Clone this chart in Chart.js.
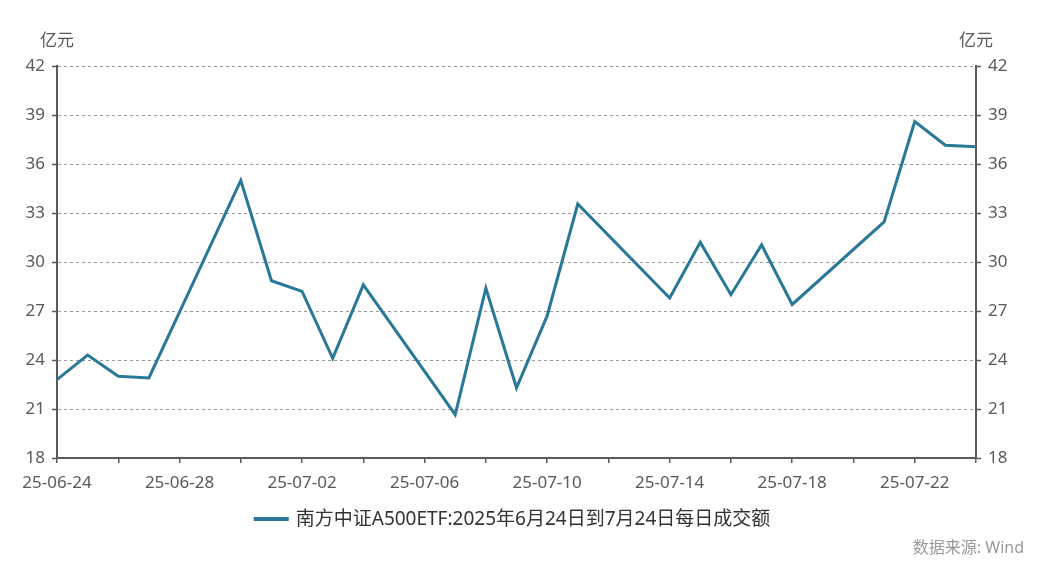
<!DOCTYPE html>
<html>
<head>
<meta charset="utf-8">
<script src="https://cdn.jsdelivr.net/npm/chart.js@4/dist/chart.umd.min.js"></script>
<style>
  html, body { margin: 0; padding: 0; background: #fff; }
  #wrap { width: 1060px; height: 574px; position: relative; }
</style>
</head>
<body>
<div id="wrap"><canvas id="c" width="1060" height="574"></canvas></div>
<script>
// ---- data ----
const dates = ['25-06-24','25-06-25','25-06-26','25-06-27','25-06-30','25-07-01','25-07-02','25-07-03','25-07-04','25-07-07','25-07-08','25-07-09','25-07-10','25-07-11','25-07-14','25-07-15','25-07-16','25-07-17','25-07-18','25-07-21','25-07-22','25-07-23','25-07-24'];
const volumes = [22.8,24.3,23.0,22.9,35.0,28.85,28.2,24.1,28.6,20.65,28.4,22.3,26.7,33.55,27.8,31.2,28.0,31.05,27.4,32.45,38.6,37.15,37.05];
const seriesName = '南方中证A500ETF:2025年6月24日到7月24日每日成交额';
const unitLabel = '亿元';
const sourceLabel = '数据来源: Wind';
const yMin = 18, yMax = 42, yStep = 3;
const xTickStep = 2, xLabelEvery = 4;

// ---- helpers ----
function toUTC(d) { const p = d.split('-'); return Date.UTC(2000 + +p[0], +p[1] - 1, +p[2]); }
const DAY = 86400000;
const t0 = toUTC(dates[0]);
const tEnd = toUTC(dates[dates.length - 1]);
function offsetToLabel(off) {
  const dt = new Date(t0 + off * DAY);
  const yy = String(dt.getUTCFullYear() % 100).padStart(2, '0');
  const mm = String(dt.getUTCMonth() + 1).padStart(2, '0');
  const dd = String(dt.getUTCDate()).padStart(2, '0');
  return yy + '-' + mm + '-' + dd;
}
const points = dates.map((d, i) => ({ x: (toUTC(d) - t0) / DAY, y: volumes[i] }));

const FONT = '"Noto Sans", "Noto Sans CJK SC", sans-serif';
const LINE_COLOR = '#2a7898';
const TICK_COLOR = '#595959';
const AXIS_COLOR = '#5a5a5a';

const overlay = {
  id: 'overlay',
  afterDraw(chart) {
    const ctx = chart.ctx;
    ctx.save();
    // unit labels
    ctx.font = '17px ' + FONT;
    ctx.fillStyle = TICK_COLOR;
    ctx.textBaseline = 'middle';
    ctx.textAlign = 'left';
    ctx.fillText(unitLabel, 40, 41);
    ctx.textAlign = 'right';
    ctx.fillText(unitLabel, 993, 41);
    // legend
    ctx.font = '19px ' + FONT;
    const tw = ctx.measureText(seriesName).width;
    const sw = 35, gap = 7;
    const total = sw + gap + tw;
    const cx = 512;
    const lx = cx - total / 2;
    const ly = 519;
    ctx.strokeStyle = LINE_COLOR;
    ctx.lineWidth = 4;
    ctx.beginPath();
    ctx.moveTo(lx, ly);
    ctx.lineTo(lx + sw, ly);
    ctx.stroke();
    ctx.fillStyle = '#333';
    ctx.textAlign = 'left';
    ctx.fillText(seriesName, lx + sw + gap, ly + 1);
    // source
    ctx.font = '16px ' + FONT;
    ctx.fillStyle = '#999';
    ctx.textAlign = 'right';
    ctx.fillText(sourceLabel, 1024, 548);
    ctx.restore();
  }
};

new Chart(document.getElementById('c'), {
  type: 'line',
  data: {
    datasets: [{
      label: seriesName,
      data: points,
      borderColor: LINE_COLOR,
      backgroundColor: LINE_COLOR,
      borderWidth: 3,
      pointRadius: 0,
      tension: 0,
      fill: false
    }]
  },
  options: {
    responsive: false,
    animation: false,
    devicePixelRatio: 1,
    layout: { padding: { top: 66, left: 0, right: 0, bottom: 0 } },
    plugins: { legend: { display: false }, tooltip: { enabled: false } },
    scales: {
      x: {
        type: 'linear',
        min: 0,
        max: (tEnd - t0) / DAY,
        afterFit(s) { s.height = 116; },
        afterBuildTicks(s) {
          const arr = [];
          for (let v = 0; v <= s.max; v += xTickStep) arr.push({ value: v });
          s.ticks = arr;
        },
        ticks: {
          autoSkip: false,
          maxRotation: 0,
          padding: 10,
          color: TICK_COLOR,
          font: { size: 17, family: FONT },
          callback: (v) => (v % xLabelEvery === 0 ? offsetToLabel(v) : '')
        },
        grid: { drawOnChartArea: false, drawTicks: true, tickLength: 5, color: AXIS_COLOR, lineWidth: 1.5 },
        border: { display: true, color: AXIS_COLOR, width: 2 }
      },
      y: {
        position: 'left',
        min: yMin,
        max: yMax,
        afterFit(s) { s.width = 57; },
        ticks: { stepSize: yStep, padding: 7, color: TICK_COLOR, font: { size: 17, family: FONT } },
        grid: { drawOnChartArea: true, drawTicks: true, tickLength: 5, color: '#9a9a9a', lineWidth: 1, tickColor: AXIS_COLOR, tickWidth: 1.5 },
        border: { display: true, color: AXIS_COLOR, width: 2, dash: [3, 3] }
      },
      y2: {
        position: 'right',
        min: yMin,
        max: yMax,
        afterFit(s) { s.width = 84; },
        ticks: { stepSize: yStep, padding: 7, color: TICK_COLOR, font: { size: 17, family: FONT } },
        grid: { drawOnChartArea: false, drawTicks: true, tickLength: 5, color: AXIS_COLOR, tickColor: AXIS_COLOR, tickWidth: 1.5 },
        border: { display: true, color: AXIS_COLOR, width: 2 }
      }
    }
  },
  plugins: [overlay]
});
</script>
</body>
</html>
